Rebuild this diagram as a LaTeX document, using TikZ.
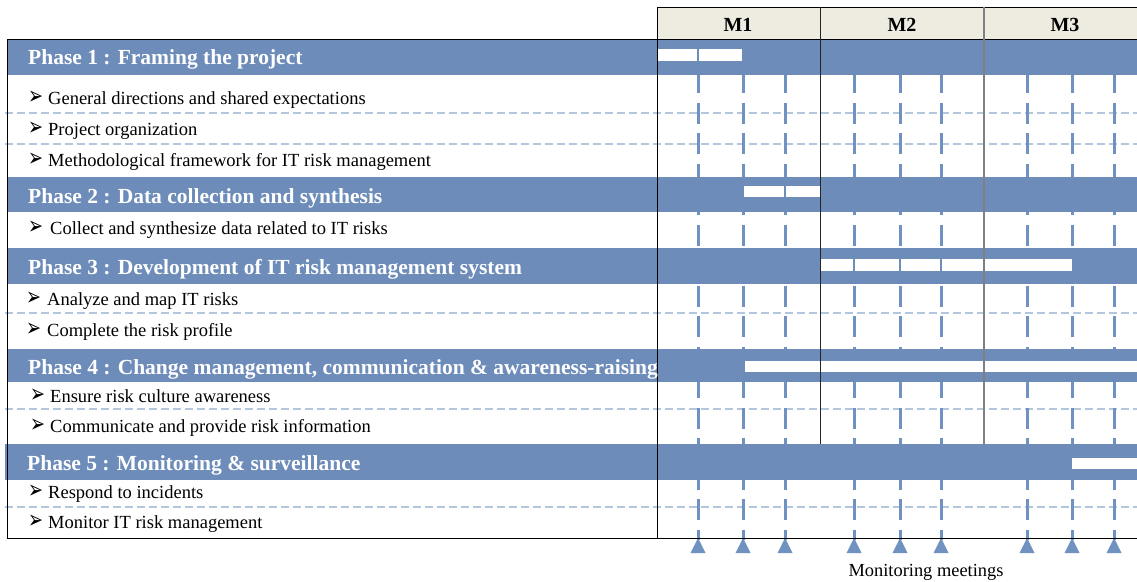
\documentclass[tikz,border=0pt]{standalone}
\usepackage{fontspec}
\setmainfont{Liberation Serif}
\newfontfamily\symfont{DejaVu Sans}
\newcommand{\mybul}{\resizebox{15pt}{13.5pt}{\symfont ➢}}
\definecolor{bandblue}{HTML}{6D8CBA}
\definecolor{tickblue}{HTML}{7092C0}
\definecolor{sepblue}{HTML}{B4C5DE}
\definecolor{headbeige}{HTML}{EEEBE0}
\tikzset{
  band/.style={fill=bandblue, draw=none},
  whitebar/.style={fill=white, draw=none},
  sepline/.style={draw=sepblue, line width=1.2pt, dash pattern=on 8pt off 4pt},
  tickline/.style={draw=tickblue, line width=3pt, dash pattern=on 21pt off 9.5pt},
  tri/.style={fill=tickblue, draw=none},
  phasetext/.style={anchor=base west, inner sep=0pt, text=white, font=\fontsize{21.5}{24}\selectfont\bfseries},
  itemtext/.style={anchor=base west, inner sep=0pt, text=black, font=\fontsize{18.5}{21}\selectfont},
  bullettext/.style={anchor=base west, inner sep=0pt, text=black},
  monthtext/.style={anchor=base, inner sep=0pt, text=black, font=\fontsize{20}{22}\selectfont\bfseries},
  captext/.style={anchor=base, inner sep=0pt, text=black, font=\fontsize{18.4}{21}\selectfont},
}
\begin{document}
\begin{tikzpicture}[x=1pt,y=-1pt]
\useasboundingbox (0,0) rectangle (1137,581);
% header
\fill[headbeige] (657,7) rectangle (1137,39);
% separators
\foreach \y in {113,144,313,409,507} \draw[sepline] (5,\y) -- (1137,\y);
% ticks
\foreach \x in {698,743,785,854,900,941,1027,1072,1114} {
  \draw[tickline] (\x,72) -- (\x,540);
  \fill[tri] (\x-7.5,553) -- (\x,538) -- (\x+7.5,553) -- cycle;
}
% bands
\fill[band] (7,40) rectangle (1137,75);
\fill[band] (7,177) rectangle (1137,212);
\fill[band] (7,248) rectangle (1137,284);
\fill[band] (7,349) rectangle (1137,382);
\fill[band] (5,444) rectangle (1137,480);
% gantt bars
\fill[whitebar] (657,49) rectangle (697,61);
\fill[whitebar] (699,49) rectangle (742,61);
\fill[whitebar] (744,186) rectangle (784,197);
\fill[whitebar] (786,186) rectangle (820,197);
\fill[whitebar] (820,259) rectangle (853,271);
\fill[whitebar] (855,259) rectangle (899,271);
\fill[whitebar] (901,259) rectangle (940,271);
\fill[whitebar] (942,259) rectangle (1072,271);
\fill[whitebar] (745,361) rectangle (1137,372);
\fill[whitebar] (1072,458) rectangle (1137,469);
% grid lines
\draw[black, line width=1pt] (657,7) -- (1137,7);
\draw[black, line width=1pt] (7,39) -- (1137,39);
\draw[black, line width=1pt] (7,39) -- (7,538);
\draw[black, line width=1pt] (7,538) -- (1137,538);
\draw[black, line width=1pt] (657,7) -- (657,538);
\draw[black!85, line width=1pt] (820,7) -- (820,444);
\draw[black!50, line width=1.4pt] (984,7) -- (984,444);
% header texts
\node[monthtext] (m1) at (738,31) {M1};
\node[monthtext] (m2) at (902,31) {M2};
\node[monthtext] (m3) at (1065,31) {M3};
% phases
\node[phasetext] (p1) at (28,64) {Phase 1 : Framing the project};
\node[phasetext] (p2) at (28,203) {Phase 2 : Data collection and synthesis};
\node[phasetext] (p3) at (28,274) {Phase 3 : Development of IT risk management system};
\node[phasetext] (p4) at (28,374) {Phase 4 : Change management, communication \& awareness-raising};
\node[phasetext] (p5) at (27,470) {Phase 5 : Monitoring \& surveillance};
% items
\node[bullettext] (b1) at (28,104) {\mybul};
\node[itemtext] (i1) at (48,104) {General directions and shared expectations};
\node[bullettext] (b2) at (28,135) {\mybul};
\node[itemtext] (i2) at (48,135) {Project organization};
\node[bullettext] (b3) at (28,166) {\mybul};
\node[itemtext] (i3) at (48,166) {Methodological framework for IT risk management};
\node[bullettext] (b4) at (28,234) {\mybul};
\node[itemtext] (i4) at (50,234) {Collect and synthesize data related to IT risks};
\node[bullettext] (b5) at (26,305) {\mybul};
\node[itemtext] (i5) at (47,305) {Analyze and map IT risks};
\node[bullettext] (b6) at (26,336) {\mybul};
\node[itemtext] (i6) at (47,336) {Complete the risk profile};
\node[bullettext] (b7) at (30,402) {\mybul};
\node[itemtext] (i7) at (50,402) {Ensure risk culture awareness};
\node[bullettext] (b8) at (30,432) {\mybul};
\node[itemtext] (i8) at (50,432) {Communicate and provide risk information};
\node[bullettext] (b9) at (28,498) {\mybul};
\node[itemtext] (i9) at (48,498) {Respond to incidents};
\node[bullettext] (b10) at (28,528) {\mybul};
\node[itemtext] (i10) at (48,528) {Monitor IT risk management};
% caption
\node[captext] (cap) at (926,576) {Monitoring meetings};
\end{tikzpicture}
\end{document}
